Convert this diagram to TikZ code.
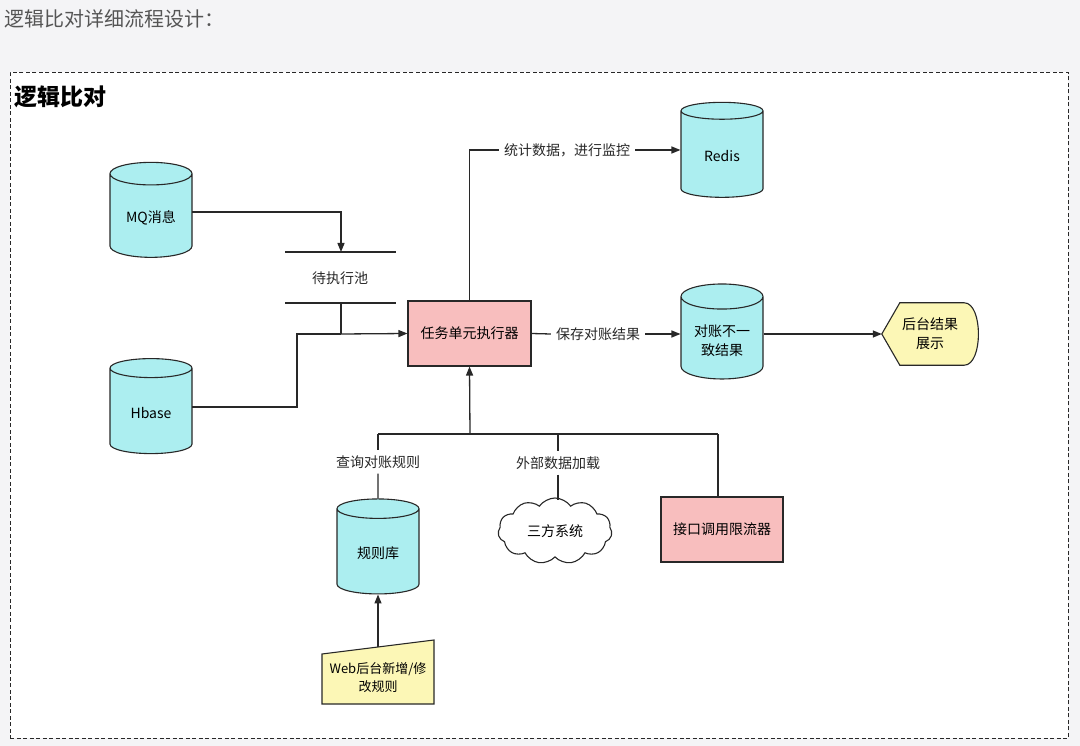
\documentclass[tikz,border=0pt]{standalone}
\usepackage{fontspec}
\setmainfont{Noto Sans CJK SC}
\usetikzlibrary{shapes.geometric,shapes.symbols,arrows.meta}
\definecolor{cyanf}{RGB}{172,238,240}
\definecolor{pinkf}{RGB}{248,190,190}
\definecolor{yelf}{RGB}{252,247,182}
\definecolor{bgc}{RGB}{244,244,246}
\definecolor{linec}{RGB}{40,40,40}
\definecolor{titlec}{RGB}{85,85,85}
\tikzset{
  lbl/.style={font=\fontsize{14}{17}\selectfont, text=linec, inner sep=5pt},
  cyl/.style={cylinder, shape border rotate=90, aspect=0.4, draw=linec, line width=1.1pt,
    fill=cyanf, minimum width=82, minimum height=95, font=\fontsize{14}{19}\selectfont, align=center},
  pinkbox/.style={rectangle, draw=linec, line width=1.1pt, fill=pinkf, font=\fontsize{14}{18}\selectfont},
  ghost/.style={rectangle, draw=none, font=\fontsize{14}{19}\selectfont, align=center},
  conn/.style={draw=linec, line width=1.3pt},
  arr/.style={conn, -{Triangle[length=9pt,width=7pt]}},
  shapeline/.style={draw=linec, line width=1.1pt}
}
\begin{document}
\begin{tikzpicture}[x=1pt,y=-1pt]
\useasboundingbox (0,0) rectangle (1080,746);
\fill[bgc] (0,0) rectangle (1080,746);
\node[anchor=north west, draw=linec, fill=white, line width=0.9pt, dash pattern=on 4pt off 2.5pt,
  minimum width=1058, minimum height=666, inner sep=0] (frame) at (10,72) {};
\node[anchor=west, text=titlec, font=\fontsize{20}{24}\selectfont, inner sep=0] (title) at (4,19) {逻辑比对详细流程设计：};
\node[anchor=west, text=black, font=\fontsize{23}{26}\selectfont\bfseries, inner sep=0] (frametitle) at (14,97) {逻辑比对};

% cylinders
\node[cyl] (mq) at (151,218) {MQ消息};
\node[cyl] (hbase) at (151,413) {Hbase};
\node[cyl] (redis) at (722,156) {Redis};
\node[cyl] (incons) at (722,340.5) {对账不一\\致结果};
\node[cyl] (rules) at (378,553.5) {规则库};

% pool
\coordinate (ptl) at (285,252);
\coordinate (ptr) at (396,252);
\coordinate (pbl) at (285,303);
\coordinate (pbr) at (396,303);
\draw[conn] (ptl) -- (ptr);
\draw[conn] (pbl) -- (pbr);
\node[lbl] (pool) at (340,278) {待执行池};

% executor
\node[pinkbox, minimum width=123, minimum height=65] (exec) at (469.5,333.5) {任务单元执行器};

% display shape
\node[ghost, minimum width=98, minimum height=62] (display) at (931,334) {};
\path[shapeline, fill=yelf] (display.west) -- ([xshift=18]display.north west) -- ([xshift=-16]display.north east)
  .. controls ([xshift=3]display.north east) and ([xshift=3]display.south east) .. ([xshift=-16]display.south east)
  -- ([xshift=18]display.south west) -- cycle;
\node[ghost] (displaytext) at ([xshift=-1]display.center) {后台结果\\展示};

% cloud
\node[cloud, cloud puffs=11, cloud puff arc=110, aspect=1.9, draw=linec, line width=1.1pt, fill=white,
  minimum width=114, minimum height=66, font=\fontsize{14}{18}\selectfont] (ext) at (555,531) {三方系统};

% limiter
\node[pinkbox, minimum width=122, minimum height=65] (limiter) at (722,529.5) {接口调用限流器};

% web manual input
\coordinate (wtl) at (322,654);
\coordinate (wtr) at (434,640);
\coordinate (wbr) at (434,704);
\coordinate (wbl) at (322,704);
\path[shapeline, fill=yelf] (wtl) -- (wtr) -- (wbr) -- (wbl) -- cycle;
\node[ghost, font=\fontsize{13}{18}\selectfont] (web) at (378,678) {Web后台新增/修\\改规则};
\coordinate (webtop) at (378,647);

% connectors
\coordinate (poolin) at (341,252);
\coordinate (poolout) at (341,303);
\coordinate (join) at (341,334);
\coordinate (hb) at (297,334);
\coordinate (mqout) at (192,212);
\coordinate (hbout) at (192,407);
\draw[arr] (mqout) -| (poolin);
\draw[conn] (poolout) -- (join);
\draw[arr] (join) -- (exec.west);
\draw[conn] (hbout) -| (hb) -- (join);

\node[lbl] (lab1) at (567,150) {统计数据，进行监控};
\draw[conn] (exec.north) |- (lab1.west);
\draw[arr] (lab1.east) -- (lab1.east -| redis.west);

\node[lbl] (lab2) at (598,334) {保存对账结果};
\draw[conn] (exec.east) -- (lab2.west);
\draw[arr] (lab2.east) -- (lab2.east -| incons.west);

\draw[arr] (display.west -| incons.east) -- (display.west);

\coordinate (bus) at (470,434);
\coordinate (busl) at (378,434);
\coordinate (busc) at (558,434);
\coordinate (busr) at (718,434);
\coordinate (cloudtop) at (558,500);
\draw[arr] (bus) -- (exec.south);
\draw[conn] (busl) -- (busr);
\node[lbl] (lab3) at (378,462) {查询对账规则};
\node[lbl] (lab4) at (558,463) {外部数据加载};
\draw[conn] (busl) -- (lab3.north);
\draw[conn] (lab3.south) -- (rules.north);
\draw[conn] (busc) -- (lab4.north);
\draw[conn] (lab4.south) -- (cloudtop);
\draw[conn] (busr) -- (busr |- limiter.north);

\draw[arr] (webtop) -- (rules.south);
\end{tikzpicture}
\end{document}
